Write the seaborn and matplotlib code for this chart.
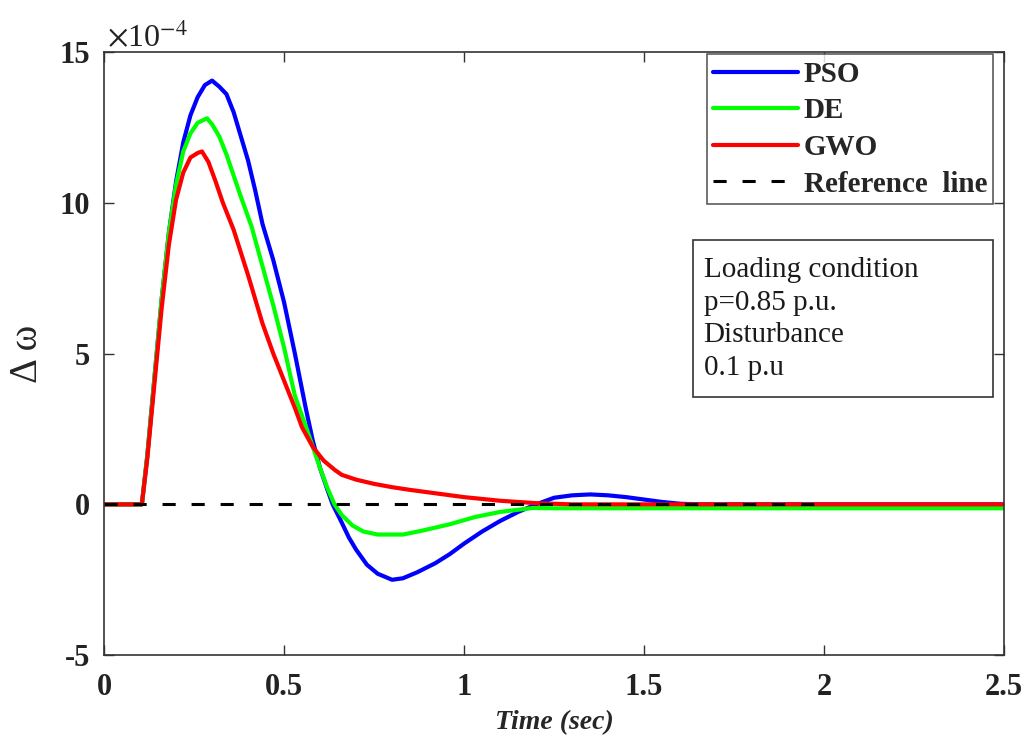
import numpy as np
import pandas as pd
import matplotlib
matplotlib.use("Agg")
import matplotlib.pyplot as plt
import matplotlib.patches as mpatches
import seaborn as sns

# Tiempo (s) y respuesta de la desviación de velocidad (en unidades de 1e-4)
t_pso = [0, 0.105, 0.12, 0.14, 0.16, 0.18, 0.20, 0.22, 0.24, 0.26, 0.28, 0.30, 0.32, 0.34,
         0.36, 0.38, 0.40, 0.42, 0.44, 0.47, 0.50, 0.53, 0.56, 0.58, 0.60, 0.62, 0.635, 0.66,
         0.68, 0.70, 0.73, 0.76, 0.80, 0.83, 0.87, 0.92, 0.96, 1.0, 1.05, 1.1, 1.15, 1.2,
         1.25, 1.3, 1.35, 1.4, 1.45, 1.5, 1.55, 1.6, 1.65, 2.5]
v_pso = [0, 0, 1.6, 4.2, 6.8, 9.0, 10.7, 12.0, 12.9, 13.5, 13.9, 14.05, 13.85, 13.6,
         13.0, 12.2, 11.4, 10.4, 9.3, 8.1, 6.7, 5.0, 3.2, 2.1, 1.2, 0.5, 0.0, -0.6,
         -1.1, -1.5, -2.0, -2.3, -2.5, -2.45, -2.25, -1.95, -1.65, -1.3, -0.9, -0.55, -0.25, 0.0,
         0.22, 0.3, 0.33, 0.3, 0.24, 0.16, 0.08, 0.02, 0.0, 0.0]

t_de = [0, 0.105, 0.12, 0.14, 0.16, 0.18, 0.20, 0.22, 0.24, 0.26, 0.286, 0.30, 0.32, 0.34,
        0.36, 0.38, 0.41, 0.44, 0.47, 0.50, 0.53, 0.56, 0.58, 0.60, 0.62, 0.64, 0.66, 0.69,
        0.72, 0.76, 0.83, 0.88, 0.96, 1.03, 1.1, 1.19, 1.25, 2.5]
v_de = [0, 0, 1.6, 4.2, 6.8, 9.0, 10.6, 11.7, 12.3, 12.65, 12.8, 12.6, 12.2, 11.6,
        10.9, 10.2, 9.2, 7.9, 6.6, 5.2, 3.6, 2.6, 1.9, 1.2, 0.55, 0.0, -0.35, -0.7,
        -0.9, -1.0, -1.0, -0.88, -0.66, -0.42, -0.25, -0.12, -0.13, -0.13]

t_gwo = [0, 0.105, 0.12, 0.14, 0.16, 0.18, 0.20, 0.22, 0.24, 0.26, 0.272, 0.29, 0.31, 0.33,
         0.36, 0.40, 0.44, 0.47, 0.50, 0.53, 0.55, 0.58, 0.61, 0.64, 0.66, 0.70, 0.75, 0.80,
         0.85, 0.90, 0.95, 1.0, 1.05, 1.1, 1.15, 1.2, 1.3, 2.5]
v_gwo = [0, 0, 1.5, 4.0, 6.5, 8.6, 10.1, 11.0, 11.5, 11.65, 11.7, 11.35, 10.7, 10.0,
         9.1, 7.6, 6.0, 5.0, 4.1, 3.2, 2.55, 1.9, 1.45, 1.15, 0.98, 0.82, 0.68, 0.57,
         0.48, 0.4, 0.32, 0.24, 0.18, 0.12, 0.08, 0.04, 0.0, 0.0]

t_ref = [0, 2.0]
v_ref = [0, 0]

series = ["PSO", "DE", "GWO"]
colores = {"PSO": "#0000ff", "DE": "#00ff00", "GWO": "#ff0000"}
nota = "Loading condition\np=0.85 p.u.\nDisturbance\n0.1 p.u"

df = pd.concat([
    pd.DataFrame({"t": t_pso, "v": v_pso, "metodo": "PSO"}),
    pd.DataFrame({"t": t_de, "v": v_de, "metodo": "DE"}),
    pd.DataFrame({"t": t_gwo, "v": v_gwo, "metodo": "GWO"}),
], ignore_index=True)
df_ref = pd.DataFrame({"t": t_ref, "v": v_ref})

sns.set_style("ticks")
plt.rcParams["font.family"] = ["Liberation Serif", "DejaVu Serif"]
plt.rcParams["mathtext.fontset"] = "stix"

fig = plt.figure(figsize=(10.3, 7.42), dpi=100)
ax = fig.add_axes([0.101, 0.117, 0.874, 0.813])

sns.lineplot(data=df, x="t", y="v", hue="metodo", hue_order=series, palette=colores,
             sort=False, linewidth=3.0, ax=ax, legend=False)
sns.lineplot(data=df_ref, x="t", y="v", color="black", linewidth=2.2, ax=ax, legend=False)
ax.lines[-1].set_dashes((4.3, 5.2))

ax.set_xlim(0, 2.5)
ax.set_ylim(-5, 15)
ax.set_xticks([0, 0.5, 1, 1.5, 2, 2.5])
ax.set_xticklabels(["0", "0.5", "1", "1.5", "2", "2.5"])
ax.set_yticks([-5, 0, 5, 10, 15])
ax.set_yticklabels(["-5", "0", "5", "10", "15"])
ax.tick_params(direction="in", length=7, width=1, top=True, right=True,
               labelsize=22, colors="#333333", labelcolor="#222222")
ax.tick_params(axis="x", pad=13)
ax.tick_params(axis="y", pad=10)
for lab in ax.get_xticklabels() + ax.get_yticklabels():
    lab.set_fontweight("bold")
for sp in ax.spines.values():
    sp.set_visible(True)
    sp.set_color("#333333")
    sp.set_linewidth(1.2)

ax.set_xlabel("Time (sec)", fontsize=20, fontweight="bold", fontstyle="italic", labelpad=6)
ax.set_ylabel("Δ ω", fontsize=28, labelpad=10)
ax.text(0.003, 0.997, r"$\times$10$^{-4}$", transform=ax.transAxes, fontsize=23,
        ha="left", va="bottom", color="#222222")

handles = ax.lines[:4]
leg = ax.legend(handles, ["PSO", "DE", "GWO", "Reference  line"], loc="upper right",
                bbox_to_anchor=(0.988, 0.996), frameon=True, fancybox=False,
                prop={"family": "Liberation Serif", "weight": "bold", "size": 21},
                handlelength=2.9, handletextpad=0.2, labelspacing=0.33,
                borderpad=0.22, borderaxespad=0)
leg.get_frame().set_edgecolor("#333333")
leg.get_frame().set_linewidth(1.2)

# cuadro de anotación con tamaño fijo, como en el original
caja = mpatches.Rectangle((0.654, 0.428), 0.333, 0.260, transform=ax.transAxes,
                          facecolor="white", edgecolor="#333333", linewidth=1.2, zorder=5)
ax.add_patch(caja)
ax.text(0.666, 0.660, nota, transform=ax.transAxes, fontsize=21, ha="left", va="top",
        linespacing=1.33, color="#1a1a1a", zorder=6)

plt.savefig("out.png", dpi=100)
